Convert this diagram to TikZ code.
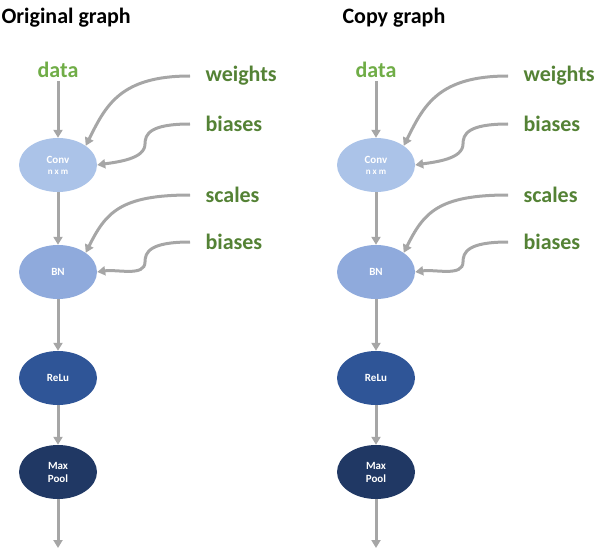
\documentclass[tikz,border=0pt]{standalone}
\usepackage{fontspec}
\setmainfont{Carlito}
\usetikzlibrary{arrows.meta}
\definecolor{lbl}{HTML}{548235}
\definecolor{dat}{HTML}{70AD47}
\definecolor{cv}{HTML}{ABC3E8}
\definecolor{bn}{HTML}{8FAADC}
\definecolor{rl}{HTML}{2F5597}
\definecolor{mp}{HTML}{203864}
\definecolor{ar}{HTML}{A6A6A6}
\begin{document}
\begin{tikzpicture}[x=1pt,y=-1pt,
 op/.style={ellipse,minimum width=78pt,minimum height=54pt,inner sep=0pt,text=white,font=\bfseries\fontsize{11}{13}\selectfont,align=center},
 lab/.style={font=\bfseries\fontsize{22}{24}\selectfont,text=lbl},
 ttl/.style={font=\bfseries\fontsize{22}{24}\selectfont,anchor=west},
 arr/.style={draw=ar,line width=3pt,-{Triangle[length=8pt,width=9pt]}}]
\useasboundingbox (0,0) rectangle (612,556);
\usetikzlibrary{shapes.geometric}
\node[ttl] (t1) at (-2,18) {Original graph};
\node[ttl] (t2) at (339,18) {Copy graph};
\foreach \p/\dx in {L/0,R/318}{
 \node[lab,text=dat] (data\p) at (58+\dx,70) {data};
 \node[op,fill=cv] (conv\p) at (58+\dx,165) {Conv\\[-2pt]{\fontsize{9}{10}\selectfont n x m}};
 \node[op,fill=bn] (bn\p) at (58+\dx,272) {BN};
 \node[op,fill=rl] (relu\p) at (58+\dx,378) {ReLu};
 \node[op,fill=mp] (mp\p) at (58+\dx,472) {Max\\Pool};
 \coordinate (end\p) at (58+\dx,548);
 \node[lab,anchor=west] (w\p) at (202+\dx,76) {weights};
 \node[lab,anchor=west] (b\p) at (202+\dx,124) {biases};
 \node[lab,anchor=west] (s\p) at (202+\dx,195) {scales};
 \node[lab,anchor=west] (c\p) at (202+\dx,242) {biases};
 \draw[arr] (data\p) -- (conv\p);
 \draw[arr] (conv\p) -- (bn\p);
 \draw[arr] (bn\p) -- (relu\p);
 \draw[arr] (relu\p) -- (mp\p);
 \draw[arr] (mp\p) -- (end\p);
 \draw[arr] (w\p.west) ++(-12,0) .. controls +(-70,0) and +(20,-40) .. (conv\p.north east);
 \draw[arr] (b\p.west) ++(-12,0) .. controls +(-40,0) and +(0,-10) .. ++(-45,20) .. controls +(0,15) and +(20,-3) .. (conv\p.east);
 \draw[arr] (s\p.west) ++(-12,0) .. controls +(-70,0) and +(20,-40) .. (bn\p.north east);
 \draw[arr] (c\p.west) ++(-12,0) .. controls +(-40,0) and +(0,-10) .. ++(-45,20) .. controls +(0,15) and +(20,-3) .. (bn\p.east);
}
\end{tikzpicture}
\end{document}
